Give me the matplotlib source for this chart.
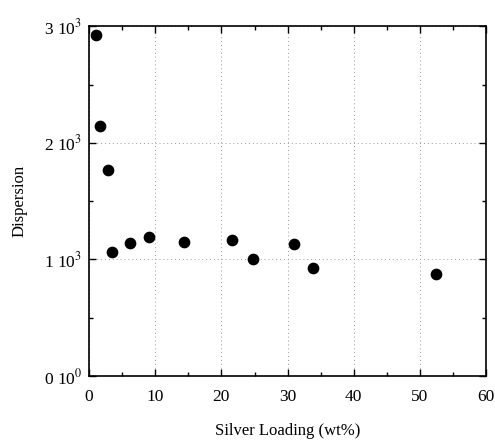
import matplotlib
matplotlib.use('Agg')
import matplotlib.pyplot as plt
from matplotlib.ticker import MultipleLocator

plt.rcParams['font.family'] = ['Liberation Serif', 'DejaVu Serif']
plt.rcParams['mathtext.fontset'] = 'stix'

# data
silver_loading = [1.1, 1.7, 2.9, 3.5, 6.2, 9.1, 14.3, 21.6, 24.7, 31.0, 33.8, 52.5]
dispersion = [2925, 2140, 1766, 1060, 1137, 1194, 1148, 1166, 1006, 1129, 923, 874]

y_ticks = [0, 1000, 2000, 3000]
y_tick_labels = ['0 10$^0$', '1 10$^3$', '2 10$^3$', '3 10$^3$']
x_ticks = [0, 10, 20, 30, 40, 50, 60]


def setup_plot_style(ax):
    ax.set_xlim(0, 60)
    ax.set_ylim(0, 3000)
    ax.set_xticks(x_ticks)
    ax.set_yticks(y_ticks)
    ax.set_yticklabels(y_tick_labels)
    ax.xaxis.set_minor_locator(MultipleLocator(5))
    ax.yaxis.set_minor_locator(MultipleLocator(500))
    ax.tick_params(which='both', direction='in', top=True, right=True,
                   labelsize=12.5, width=1.0, colors='black')
    ax.tick_params(axis='x', which='major', pad=9)
    ax.tick_params(axis='y', which='major', pad=5)
    ax.tick_params(which='major', length=5)
    ax.tick_params(which='minor', length=3)
    ax.grid(True, which='major', linestyle=(0, (1, 3)), color='#999999', linewidth=0.7)
    for s in ax.spines.values():
        s.set_linewidth(1.2)
    ax.set_xlabel('Silver Loading (wt%)', fontsize=12, labelpad=13)
    ax.set_ylabel('Dispersion', fontsize=12, labelpad=12)


fig = plt.figure(figsize=(4.95, 4.44), dpi=100)
ax = fig.add_axes([0.18, 0.153, 0.802, 0.788])
ax.scatter(silver_loading, dispersion, s=55, color='black', zorder=3, clip_on=False)
setup_plot_style(ax)

fig.savefig('out.png', dpi=100)
